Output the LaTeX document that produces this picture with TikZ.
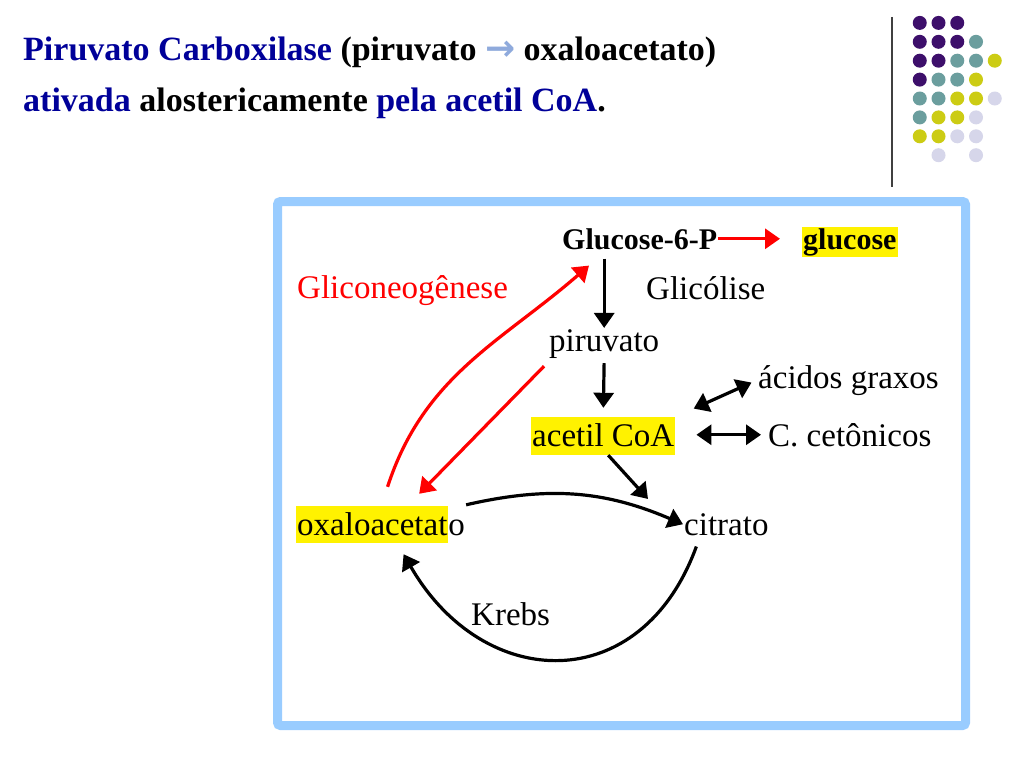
\documentclass[tikz,border=0pt]{standalone}
\usepackage{fontspec}
\setmainfont{Liberation Serif}
\newfontfamily\arrowfont{DejaVu Sans}
\usetikzlibrary{arrows.meta}

\definecolor{navy}{RGB}{0,0,153}
\definecolor{arrowblue}{RGB}{143,170,220}
\definecolor{frameblue}{RGB}{153,204,255}
\definecolor{dotpurple}{RGB}{61,15,107}
\definecolor{dotteal}{RGB}{107,158,158}
\definecolor{dotolive}{RGB}{204,204,20}
\definecolor{dotlilac}{RGB}{214,214,234}
\setlength{\fboxsep}{1pt}

\begin{document}
\begin{tikzpicture}[x=1pt,y=-1pt,
	>={Triangle[length=15pt,width=20pt]},
	every node/.style={inner sep=1pt,anchor=base west},
	titletext/.style={font=\fontsize{34}{40}\selectfont\bfseries},
	txt/.style={font=\fontsize{33}{38}\selectfont},
	boldtxt/.style={font=\fontsize{30}{34}\selectfont\bfseries},
	hl/.style={fill=yellow,text height=28pt,text depth=8pt},
	flow/.style={->,line width=3.2pt},
	gluco/.style={->,line width=3.2pt,red}]

	\fill[white] (0,0) rectangle (1024,768);
	\useasboundingbox (0,0) rectangle (1024,768);

	% title
	\node[titletext] (title1) at (22,60) {\textcolor{navy}{Piruvato Carboxilase} (piruvato {\arrowfont\bfseries\fontsize{36}{40}\selectfont\textcolor{arrowblue}{→}} oxaloacetato)};
	\node[titletext] (title2) at (22,111) {\textcolor{navy}{ativada} alostericamente \textcolor{navy}{pela acetil CoA}.};

	% corner decoration
	\draw[line width=1.2pt,black!75] (892,17) -- (892,187);
	\foreach \c/\r/\col in {1/1/dotpurple,2/1/dotpurple,3/1/dotpurple,
		1/2/dotpurple,2/2/dotpurple,3/2/dotpurple,4/2/dotteal,
		1/3/dotpurple,2/3/dotpurple,3/3/dotteal,4/3/dotteal,5/3/dotolive,
		1/4/dotpurple,2/4/dotteal,3/4/dotteal,4/4/dotolive,
		1/5/dotteal,2/5/dotteal,3/5/dotolive,4/5/dotolive,5/5/dotlilac,
		1/6/dotteal,2/6/dotolive,3/6/dotolive,4/6/dotlilac,
		1/7/dotolive,2/7/dotolive,3/7/dotlilac,4/7/dotlilac,
		2/8/dotlilac,4/8/dotlilac}
		\fill[\col] (901+18.75*\c,4+18.9*\r) circle (7);

	% frame
	\draw[frameblue,line width=9pt,rounded corners=3pt] (277.5,201.5) rectangle (965.5,725.5);

	\node[boldtxt] (g6p) at (561,249) {Glucose-6-P};
	\node[boldtxt,hl,text height=21pt,text depth=7pt] (glc) at (802,249) {glucose};
	\node[txt,red] (neo) at (296,298) {Gliconeogênese};
	\node[txt] (glic) at (645,299) {Glicólise};
	\node[txt] (pir) at (548,351) {piruvato};
	\node[txt] (acid) at (757,388) {ácidos graxos};
	\node[txt,hl] (acoa) at (531,446) {acetil CoA};
	\node[txt] (ceto) at (767,446) {C. cetônicos};
	\node[txt] (oxa) at (295,535) {\colorbox{yellow}{\rule[-7pt]{0pt}{35pt}oxaloacetat}o};
	\node[txt] (cit) at (683,535) {citrato};
	\node[txt] (krebs) at (470,625) {Krebs};

	\draw[gluco,shorten >=22pt] (g6p.east) -- (g6p.east -| glc.west);
	\draw[flow,shorten <=8pt] (g6p.south -| pir.north) -- (pir.north);
	\draw[flow,shorten <=4pt,shorten >=9pt] (pir.south) -- (acoa.north);
	\draw[flow,<->,shorten <=20pt,shorten >=6pt] (acoa.north east) -- (acid.west);
	\draw[flow,<->,shorten <=21pt,shorten >=6pt] (acoa.east |- ceto.west) -- (ceto.west);
	\draw[flow] ([xshift=5pt]acoa.south) -- ([xshift=-35pt,yshift=13pt]cit.north west);
	\draw[flow] (oxa.north east) to[bend left=18] (cit.west);
	\draw[flow] ([xshift=-30pt,yshift=-10pt]cit.south) to[out=-110,in=-60,looseness=1.4] ([xshift=23pt,yshift=-10pt]oxa.south);
	\draw[gluco] ([xshift=7pt,yshift=18pt]oxa.north) to[out=72,in=-139] ([xshift=28pt,yshift=-15pt]g6p.south west);
	\draw[gluco] ([xshift=-4pt,yshift=-7pt]pir.south west) -- ([xshift=-47pt,yshift=11pt]oxa.north east);
\end{tikzpicture}
\end{document}
